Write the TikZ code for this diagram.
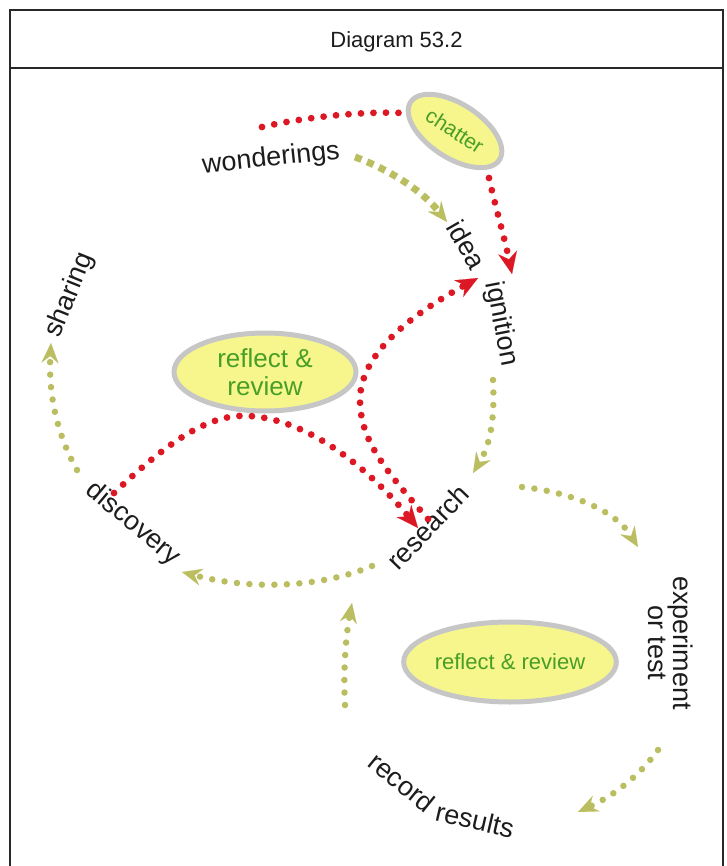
\documentclass[tikz,border=0pt]{standalone}
\usepackage{fontspec}
\setmainfont{Liberation Sans}
\usetikzlibrary{arrows.meta,shapes.geometric}

\definecolor{dotred}{RGB}{220,24,36}
\definecolor{dotolive}{RGB}{186,190,96}
\definecolor{bubblefill}{RGB}{246,246,140}
\definecolor{bubbleline}{RGB}{198,198,198}
\definecolor{leafgreen}{RGB}{72,158,38}
\definecolor{labelink}{RGB}{28,28,28}
\definecolor{frameink}{RGB}{40,40,40}

\begin{document}
\begin{tikzpicture}[x=1pt,y=-1pt,
  framerule/.style={draw=frameink, line width=2pt},
  wordlabel/.style={font=\fontsize{27}{31}\selectfont, text=labelink, inner sep=0pt},
  bubblenode/.style={ellipse, fill=bubblefill, draw=bubbleline, line width=5pt,
    text=leafgreen, inner sep=0pt, align=center},
  reddots/.style={draw=dotred, line width=6.8pt, line cap=round,
    dash pattern=on 0pt off 12.5pt},
  olivedots/.style={draw=dotolive, line width=6.5pt, line cap=round,
    dash pattern=on 0pt off 12.5pt},
  squaredots/.style={draw=dotolive, line width=7pt, line cap=butt,
    dash pattern=on 7pt off 6pt},
  redtip/.style={-{Stealth[length=22pt,width=19pt,inset=7pt,line width=0.1pt]}},
  olivetip/.style={-{Stealth[length=20pt,width=17pt,inset=7pt,line width=0.1pt]}}
]
\useasboundingbox (0,0) rectangle (726,866);

% frame and title
\draw[framerule] (10,866) -- (10,10) -- (723,10) -- (723,866);
\draw[framerule] (10,68) -- (723,68);
\node[font=\fontsize{22}{26}\selectfont, text=labelink, inner sep=0pt]
  (title) at (396.5,41.5) {Diagram 53.2};

% bubbles
\node[bubblenode, rotate=-33, minimum width=106pt, minimum height=54pt,
  font=\fontsize{21}{24}\selectfont] (chat) at (455,131) {chatter};
\node[bubblenode, minimum width=182pt, minimum height=78pt,
  font=\fontsize{26}{28}\selectfont] (rr1) at (265,372) {reflect \&\\review};
\node[bubblenode, minimum width=182pt, minimum height=80pt,
  font=\fontsize{22}{26}\selectfont] (rr2) at (510,662) {reflect \& review};

% stage words
\node[wordlabel, rotate=6]   (won)  at (271,159) {wonderings};
\node[wordlabel, rotate=-60] (idea) at (467,245) {idea};
\node[wordlabel, rotate=-79] (ign)  at (501,324) {ignition};
\node[wordlabel, rotate=46]  (res)  at (428,527) {research};
\node[wordlabel, rotate=-40] (disc) at (133,524) {discovery};
\node[wordlabel, rotate=68]  (shr)  at (70,295)  {sharing};
\node[wordlabel, rotate=-90, align=center, font=\fontsize{27}{25}\selectfont]
  (exp) at (671,643) {experiment\\or test};
\node[wordlabel, rotate=-39] (rec)  at (402,782) {record};
\node[wordlabel, rotate=-13] (rslt) at (475,820) {results};

% connector ends
\coordinate (wonR)   at (262,127);
\coordinate (chatW)  at (402,113);
\coordinate (chatS)  at (489,178);
\coordinate (ideaT)  at (512,274);
\coordinate (wonE)   at (355,157);
\coordinate (ideaL)  at (447,222);
\coordinate (ignB)   at (493,380);
\coordinate (resT)   at (473,473);
\coordinate (resE)   at (522,487);
\coordinate (expT)   at (638,547);
\coordinate (resW)   at (372,566);
\coordinate (discE)  at (182,572);
\coordinate (discN)  at (77,470);
\coordinate (shrB)   at (51,343);
\coordinate (rrLow)  at (345,705);
\coordinate (resS)   at (352,603);
\coordinate (expB)   at (658,750);
\coordinate (rsltE)  at (578,812);
\coordinate (discR)  at (114,493);
\coordinate (resL)   at (418,528);
\coordinate (resR)   at (428,519);
\coordinate (ideaW)  at (478,278);

% red chatter and review loops
\path[reddots] (wonR) .. controls (300,118) and (360,111) .. (chatW);
\path[reddots, redtip] (chatS) .. controls (495,205) and (505,240) .. (ideaT);
\path[reddots, redtip] (discR) .. controls (170,440) and (210,413) .. (250,416)
  .. controls (310,420) and (370,470) .. (resL);
\path[reddots, redtip] (resR) .. controls (385,470) and (360,440) .. (360,400)
  .. controls (360,350) and (420,310) .. (ideaW);

% olive cycle
\path[squaredots, olivetip] (wonE) .. controls (385,168) and (420,188) .. (ideaL);
\path[olivedots, olivetip] (ignB) .. controls (495,420) and (490,445) .. (resT);
\path[olivedots, olivetip] (resE) .. controls (570,492) and (615,510) .. (expT);
\path[olivedots, olivetip] (resW) .. controls (320,588) and (250,590) .. (discE);
\path[olivedots, olivetip] (discN) .. controls (60,440) and (48,400) .. (shrB);
\path[olivedots, olivetip] (rrLow) .. controls (343,670) and (346,635) .. (resS);
\path[olivedots, olivetip] (expB) .. controls (640,775) and (615,795) .. (rsltE);
\end{tikzpicture}
\end{document}
